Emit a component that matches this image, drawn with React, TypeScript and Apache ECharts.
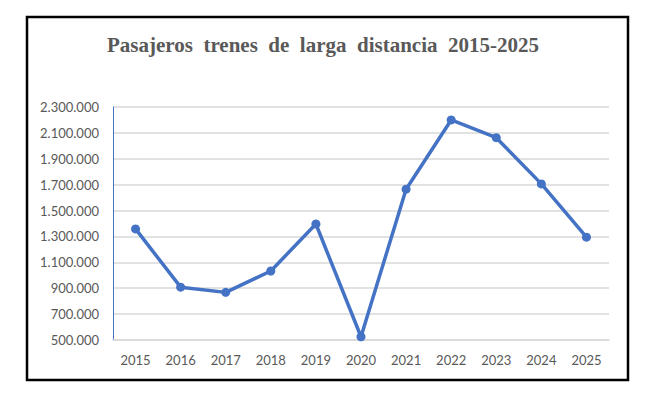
import React, { useEffect, useRef } from "react";
import * as echarts from "echarts";

const years = ["2015", "2016", "2017", "2018", "2019", "2020", "2021", "2022", "2023", "2024", "2025"];
const passengers = [1358000, 908000, 868000, 1033000, 1396000, 525000, 1665000, 2200000, 2063000, 1706000, 1294000];
const titleText = "Pasajeros  trenes  de  larga  distancia  2015-2025";

const fmt = (v: number) => String(Math.round(v)).replace(/\B(?=(\d{3})+(?!\d))/g, ".");

export default function App() {
  const ref = useRef<HTMLDivElement>(null);
  useEffect(() => {
    if (!ref.current) return;
    const chart = echarts.init(ref.current, undefined, { renderer: "svg" });
    chart.setOption({
      animation: false,
      backgroundColor: "#ffffff",
      graphic: [
        {
          type: "text",
          x: 323,
          y: 45,
          style: {
            text: titleText,
            textAlign: "center",
            textVerticalAlign: "middle",
            fontFamily: "Liberation Serif",
            fontWeight: "bold",
            fontSize: 21,
            fill: "#595959",
          },
        },
        {
          type: "rect",
          shape: { x: 27, y: 17, width: 601, height: 363 },
          style: { fill: "none", stroke: "#000000", lineWidth: 2.5 },
          z: 100,
        },
      ],
      grid: { left: 113, right: 50, top: 107, bottom: 57, containLabel: false },
      xAxis: {
        type: "category",
        data: years,
        boundaryGap: true,
        axisTick: { show: false },
        axisLine: { lineStyle: { color: "#d9d9d9", width: 1.5 } },
        axisLabel: { color: "#595959", fontFamily: "Lato", fontSize: 13, margin: 13 },
      },
      yAxis: {
        type: "value",
        min: 500000,
        max: 2300000,
        interval: 200000,
        axisLine: { show: true, lineStyle: { color: "#4472C4", width: 1 } },
        axisTick: { show: false },
        splitLine: { lineStyle: { color: "#d9d9d9", width: 1.5 } },
        axisLabel: { color: "#595959", fontFamily: "Lato", fontSize: 13, margin: 14, formatter: fmt },
      },
      series: [
        {
          type: "line",
          data: passengers,
          symbol: "circle",
          symbolSize: 9,
          lineStyle: { color: "#4472C4", width: 3.5 },
          itemStyle: { color: "#4472C4" },
        },
      ],
    });
    return () => chart.dispose();
  }, []);
  return (
    <div
      ref={ref}
      style={{ position: "absolute", left: 0, top: 0, width: 659, height: 397 }}
    />
  );
}
